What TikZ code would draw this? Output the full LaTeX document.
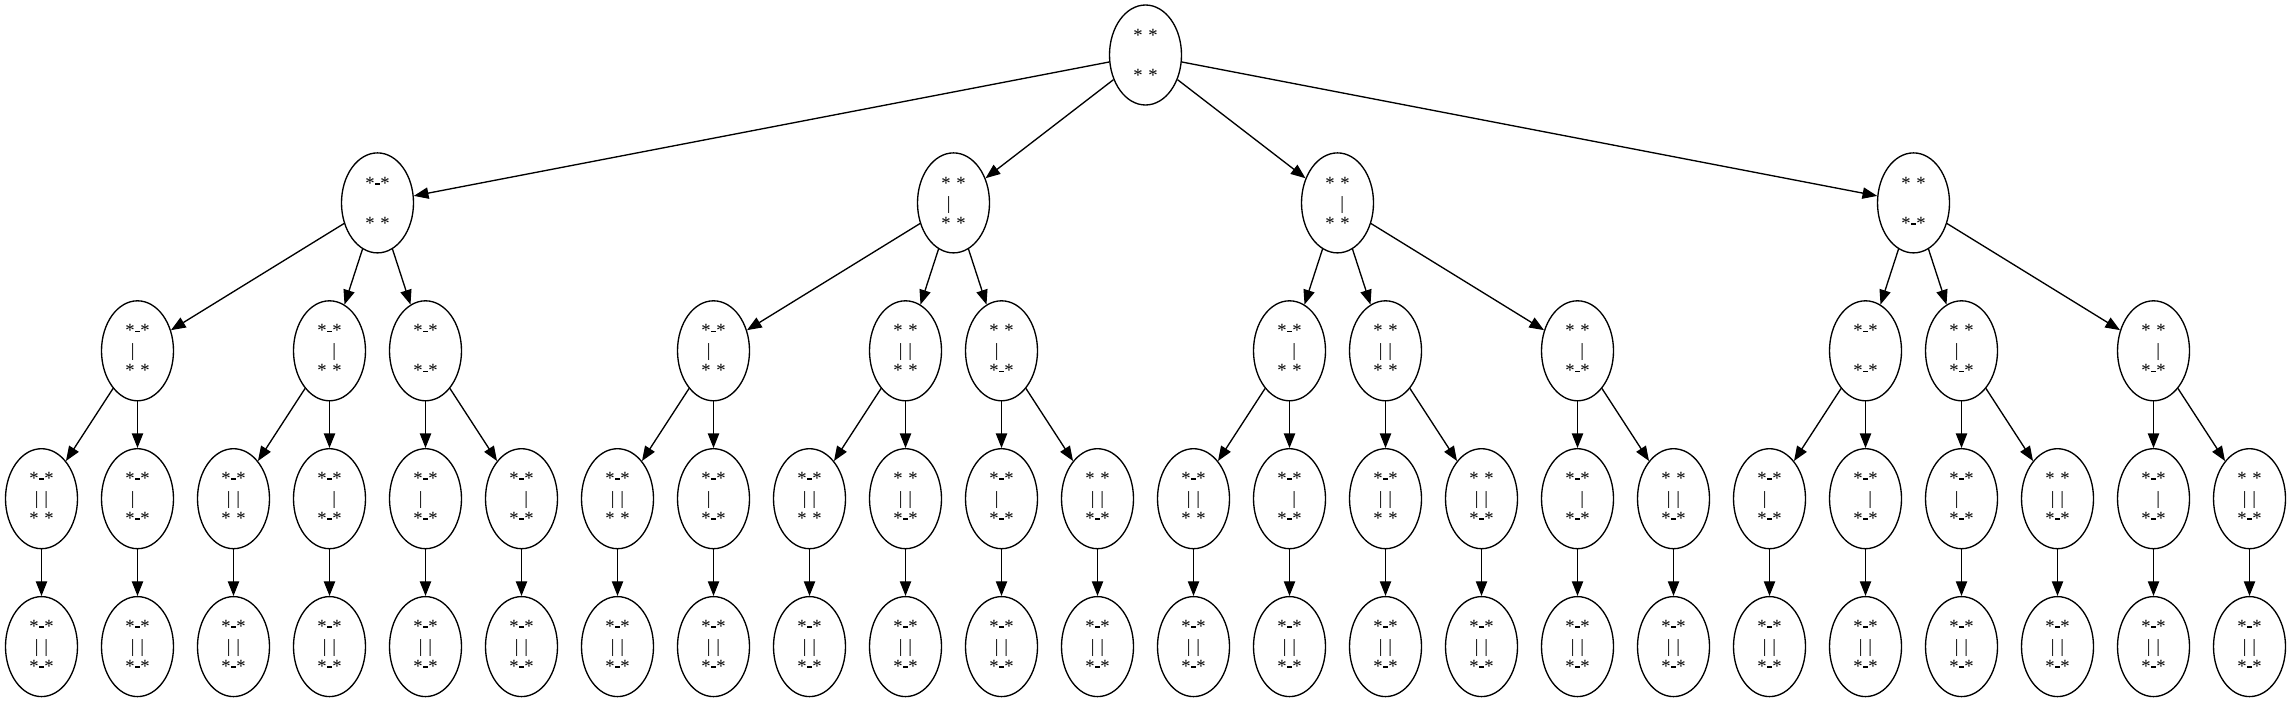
\documentclass[tikz,border=0pt]{standalone}
\usepackage{fontspec}
\setmainfont{Liberation Serif}
\usetikzlibrary{shapes.geometric,arrows.meta}
\newcommand{\dotsrows}{\relax*\makebox[0.3em]{}*}
\newcommand{\dotsrowu}{\relax*\makebox[0.3em]{\rule[0.24em]{0.22em}{0.1em}}*}
\newcommand{\barsN}{\relax\makebox[0.7em]{}}
\newcommand{\barsL}{\relax\makebox[0.7em][l]{|}}
\newcommand{\barsR}{\relax\makebox[0.7em][r]{|}}
\newcommand{\barsB}{\relax\makebox[0.7em][s]{|\hfill|}}
\newcommand{\board}[3]{\csname dotsrow#1\endcsname\\\csname bars#2\endcsname\\\csname dotsrow#3\endcsname}

\begin{document}
\begin{tikzpicture}[x=0.75pt,y=-0.75pt,
  state/.style={draw,ellipse,line width=1pt,minimum width=54pt,minimum height=75pt,
    inner sep=0pt,align=center,font=\fontsize{14pt}{15pt}\selectfont},
  move/.style={line width=1pt,-{Triangle[length=11pt,width=8.5pt]}}]
  \useasboundingbox (0,0) rectangle (2291,702);

  \node[state] (root) at (1145.5,55) {\board{s}{N}{s}};

  \foreach \k/\tp/\md/\bt [count=\i] in {3.5/u/N/s,9.5/s/L/s,13.5/s/R/s,19.5/s/N/u}
  {
    \node[state] (l1-\i) at (41.5+96*\k,202.9) {\board{\tp}{\md}{\bt}};
    \draw[move] (root) -- (l1-\i);
  }

  \foreach \k/\up/\tp/\md/\bt [count=\i] in {1/1/u/L/s,3/1/u/R/s,4/1/u/N/u,
    7/2/u/L/s,9/2/s/B/s,10/2/s/L/u,13/3/u/R/s,14/3/s/B/s,16/3/s/R/u,
    19/4/u/N/u,20/4/s/L/u,22/4/s/R/u}
  {
    \node[state] (l2-\i) at (41.5+96*\k,350.8) {\board{\tp}{\md}{\bt}};
    \draw[move] (l1-\up) -- (l2-\i);
  }

  \foreach \tp/\md/\bt [count=\k from 0] in {u/B/s,u/L/u,u/B/s,u/R/u,u/L/u,u/R/u,
    u/B/s,u/L/u,u/B/s,s/B/u,u/L/u,s/B/u,u/B/s,u/R/u,u/B/s,s/B/u,u/R/u,s/B/u,
    u/L/u,u/R/u,u/L/u,s/B/u,u/R/u,s/B/u}
  {
    \pgfmathtruncatemacro{\up}{\k/2+1}
    \node[state] (l3-\k) at (41.5+96*\k,498.7) {\board{\tp}{\md}{\bt}};
    \draw[move] (l2-\up) -- (l3-\k);
    \node[state] (l4-\k) at (41.5+96*\k,646.6) {\board{u}{B}{u}};
    \draw[move] (l3-\k) -- (l4-\k);
  }
\end{tikzpicture}
\end{document}
